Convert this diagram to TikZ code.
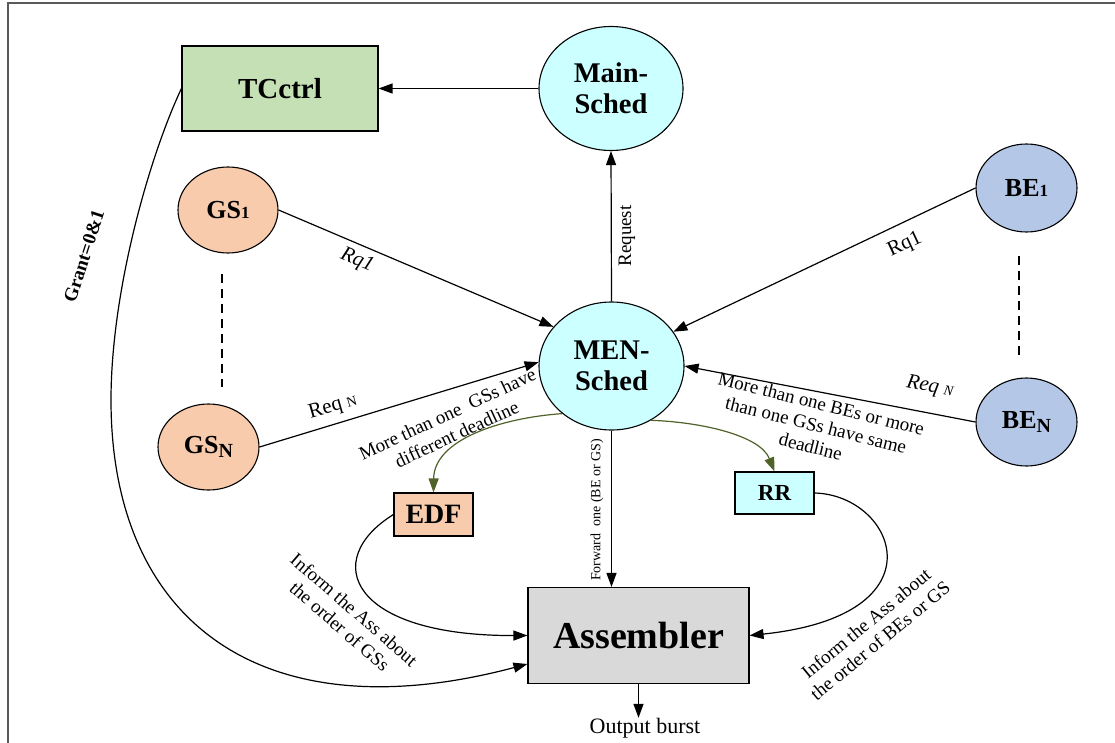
\documentclass[tikz,border=0pt]{standalone}
\usepackage{fontspec}
\setmainfont{Liberation Serif}
\usetikzlibrary{shapes.geometric,arrows.meta}
\definecolor{gsfill}{HTML}{F8CBAD}
\definecolor{befill}{HTML}{B4C7E7}
\definecolor{cyanfill}{HTML}{CCFFFF}
\definecolor{tcfill}{HTML}{C5E0B4}
\definecolor{asmfill}{HTML}{D9D9D9}
\definecolor{arrowgreen}{HTML}{4F6228}
\definecolor{framegray}{HTML}{5A5A5A}
\begin{document}
\begin{tikzpicture}[x=1pt,y=-1pt,
  ell/.style={ellipse, draw, line width=1.1pt, inner sep=0pt, align=center, font=\fontsize{28.5}{31}\selectfont\bfseries},
  smell/.style={ellipse, draw, line width=1.1pt, inner sep=0pt, align=center, font=\fontsize{26}{28}\selectfont\bfseries},
  box/.style={rectangle, draw, line width=1.1pt, inner sep=0pt, align=center},
  arr/.style={line width=1.2pt, -{Triangle[length=14pt,width=10pt]}},
  garr/.style={line width=1.2pt, draw=arrowgreen, -{Triangle[length=14pt,width=10pt,fill=arrowgreen]}},
  lbl/.style={font=\fontsize{19}{22}\selectfont, align=center, inner sep=0pt},
]
\useasboundingbox (0,0) rectangle (1115,743);
\draw[line width=2pt, framegray] (7.5,743) -- (7.5,3.5) -- (1115,3.5);

% nodes
\node[ell, fill=cyanfill, minimum width=144pt, minimum height=124pt] (mains) at (611,88.5) {Main-\\Sched};
\node[ell, fill=cyanfill, minimum width=145pt, minimum height=128pt] (mens) at (611.5,366) {MEN-\\Sched};
\node[box, fill=tcfill, minimum width=196pt, minimum height=85pt, font=\fontsize{29}{31}\selectfont\bfseries] (tc) at (280,88.5) {TCctrl};
\node[smell, fill=gsfill, minimum width=100pt, minimum height=86pt] (gs1) at (228,210) {GS{\fontsize{17}{17}\selectfont 1}};
\node[smell, fill=gsfill, minimum width=101pt, minimum height=86pt] (gsn) at (208.5,447) {GS\raisebox{-4.5pt}{\fontsize{20}{20}\selectfont N}};
\node[smell, fill=befill, minimum width=101pt, minimum height=88pt] (be1) at (1026.5,188) {BE{\fontsize{17}{17}\selectfont 1}};
\node[smell, fill=befill, minimum width=101pt, minimum height=88pt] (ben) at (1026.5,422) {BE\raisebox{-4.5pt}{\fontsize{20}{20}\selectfont N}};
\node[box, fill=gsfill, minimum width=79pt, minimum height=43pt, font=\fontsize{28}{30}\selectfont\bfseries] (edf) at (433.5,514.5) {EDF};
\node[box, fill=cyanfill, minimum width=79pt, minimum height=42pt, font=\fontsize{23}{25}\selectfont\bfseries] (rr) at (774.5,493) {RR};
\node[box, fill=asmfill, minimum width=221pt, minimum height=96pt, font=\fontsize{38}{40}\selectfont\bfseries] (asm) at (638.5,635.5) {Assembler};
\node[lbl, font=\fontsize{22}{24}\selectfont] (out) at (645,728) {Output burst};

% dashed separators
\draw[line width=1.1pt, dash pattern=on 9pt off 6pt] (222,274) -- (222,387);
\draw[line width=1.1pt, dash pattern=on 9pt off 6pt] (1019,256) -- (1019,359);

% connectors
\draw[arr] (mains.west) -- (tc.east);
\draw[arr] (mens.north) -- (mains.south);
\draw[arr] (gs1.east) -- (mens.146);
\draw[arr] (gsn.east) -- (mens.177);
\draw[arr] (be1.west) -- (mens.29);
\draw[arr] (ben.west) -- (mens.east);
\draw[arr] (mens.south) -- (mens.south |- asm.north);
\draw[arr] (asm.south) -- (asm.south |- out.north);
\draw[garr] (mens.224) .. controls (500,418) and (434,440) .. (edf.north);
\draw[garr] (mens.306) .. controls (700,422) and (760,435) .. (rr.north);
\draw[arr] (edf.west) .. controls (320,560) and (350,636) .. (asm.west);
\draw[arr] (tc.west) .. controls (150,155) and (111,290) .. (111,400) .. controls (111,620) and (260,735) .. ([yshift=-28.5pt]asm.west);
\draw[arr] (rr.east) .. controls (895,495) and (945,615) .. (asm.east);

% labels
\node[lbl, rotate=90] at (627,236) {Request};
\node[lbl, font=\fontsize{21}{24}\selectfont\itshape, rotate=-22.5] at (357,261) {Rq1};
\node[lbl, font=\fontsize{21}{24}\selectfont, rotate=16] at (333,407) {Req {\fontsize{14}{14}\selectfont N}};
\node[lbl, font=\fontsize{21}{24}\selectfont, rotate=25] at (905,245) {Rq1};
\node[lbl, font=\fontsize{21}{24}\selectfont\itshape, rotate=-10.5] at (930,387) {Req {\fontsize{14}{14}\selectfont N}};
\node[lbl, rotate=25] at (452,424) {More than one\ \ GSs have\\different deadline};
\node[lbl, rotate=-14] at (816,425) {More than one BEs or more\\than one GSs have same\\deadline};
\node[lbl, rotate=-41] at (347,618) {Inform the Ass about\\the order of GSs};
\node[lbl, rotate=39.5] at (873,632) {Inform the Ass about\\the order of BEs or GS};
\node[lbl, font=\fontsize{14}{16}\selectfont, rotate=90] at (597,510) {Forward\ \ one (BE or GS)};
\node[lbl, font=\fontsize{19}{20}\selectfont\bfseries, rotate=72] at (84,256) {Grant=0\&1};
\end{tikzpicture}
\end{document}
